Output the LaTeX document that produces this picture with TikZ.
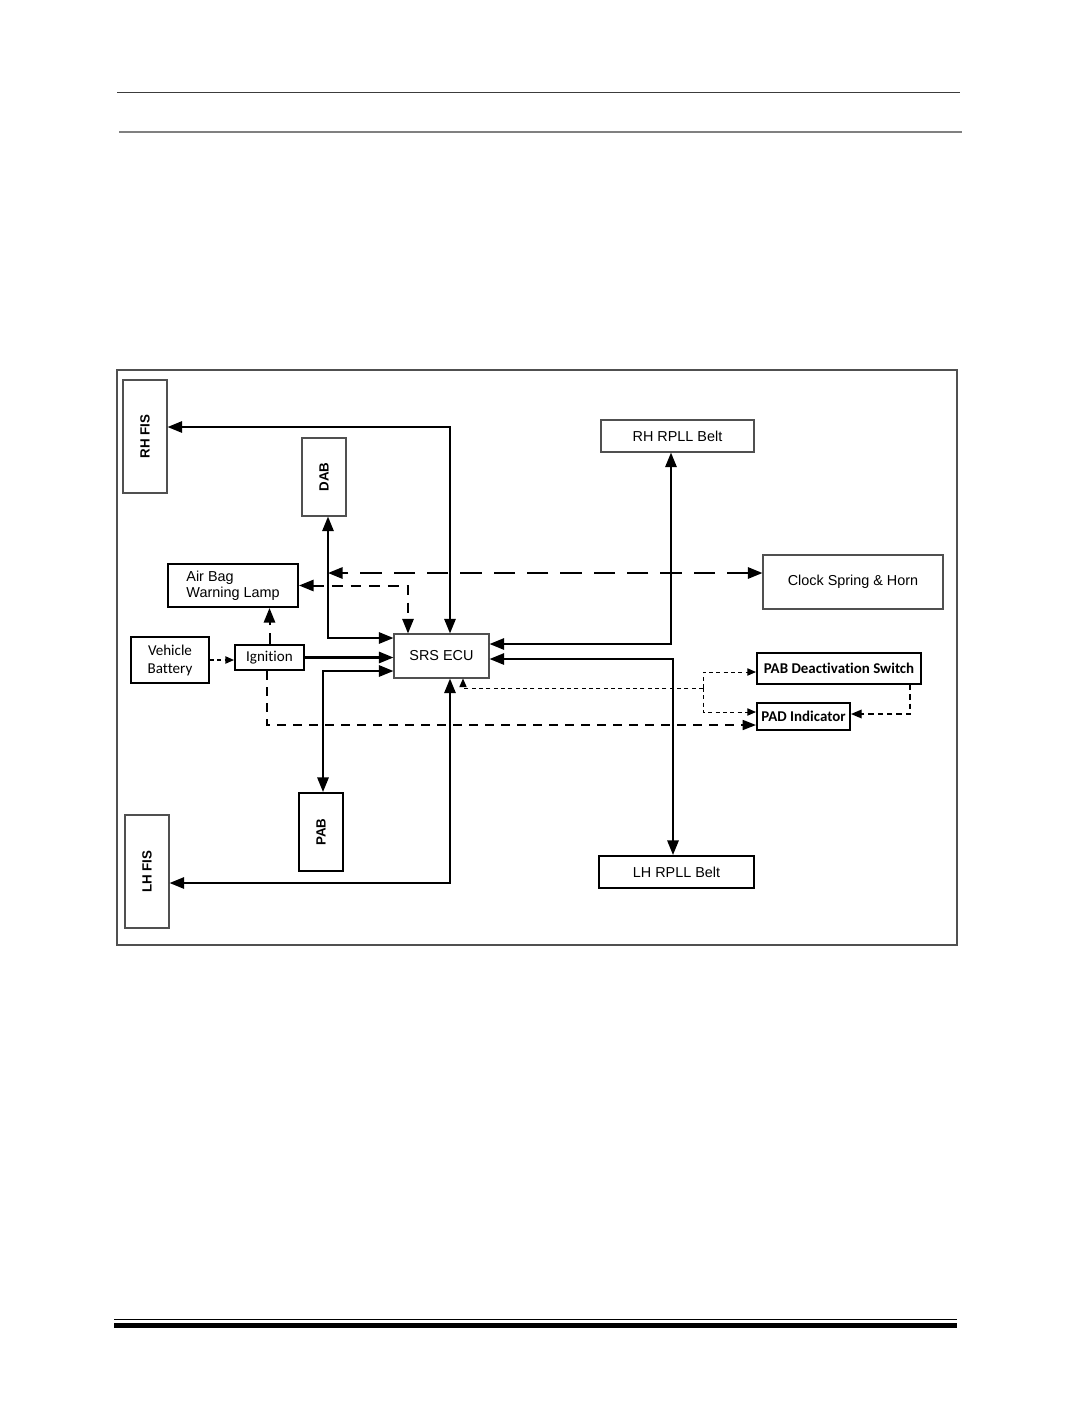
\documentclass[tikz,border=0pt]{standalone}
\usepackage{fontspec}
\setmainfont{Liberation Sans}
\newfontfamily\carlito[Ligatures=NoCommon]{Carlito}
\usepackage{graphicx}
\usetikzlibrary{arrows.meta}
\usetikzlibrary{calc}
\definecolor{framegray}{RGB}{80,80,80}
\definecolor{rulegray}{RGB}{128,128,128}

\begin{document}
\begin{tikzpicture}[x=0.75pt,y=0.75pt,yscale=-1,xscale=1,
	thinbox/.style={draw=framegray,line width=0.8pt,inner sep=0pt,align=center,font=\fontsize{10.8}{12}\selectfont},
	heavybox/.style={draw=black,line width=1.5pt,inner sep=0pt,align=center,font=\fontsize{10.8}{12}\selectfont},
	sidebox/.style={minimum width=33pt,minimum height=84.75pt,font=\bfseries\fontsize{10}{12}\selectfont},
	bagbox/.style={minimum width=33pt,minimum height=58.5pt,font=\bfseries\fontsize{10}{12}\selectfont},
	calbox/.style={heavybox,font=\carlito\fontsize{11.3}{13.5}\selectfont},
	flagbox/.style={heavybox,font=\carlito\bfseries\fontsize{11.2}{13}\selectfont},
	wire/.style={line width=1.6pt,>={Triangle[length=11pt,width=8.5pt]}},
	longdash/.style={wire,dash pattern=on 16pt off 9pt},
	middash/.style={wire,line width=1.5pt,dash pattern=on 8pt off 6pt},
	igndash/.style={line width=1.2pt,dash pattern=on 7pt off 5pt,>={Triangle[length=10pt,width=7.5pt]}},
	thindash/.style={line width=0.75pt,dash pattern=on 3pt off 2.5pt,>={Triangle[length=6.5pt,width=5.5pt]}},
	pairdash/.style={line width=1pt,dash pattern=on 4pt off 3pt,>={Triangle[length=8pt,width=6.5pt]}}]
	\useasboundingbox (0,0) rectangle (1075,1422);

	%Straight Lines (page rules)
	\draw [line width=0.9pt,color={rgb,255:red,60;green,60;blue,60}] (117,92.3) -- (960,92.3) ;
	\draw [line width=1.6pt,rulegray] (119,131.7) -- (962,131.7) ;
	\draw [line width=1pt] (114,1319.8) -- (957,1319.8) ;
	\draw [line width=3.8pt] (114,1325.2) -- (957,1325.2) ;
	%Shape: Rectangle (frame)
	\draw [framegray,line width=0.8pt] (117,370) rectangle (957,945) ;

	% Text Node
	\node [thinbox,sidebox] (rhfis) at (145,436.5) {\rotatebox{90}{RH FIS}};
	% Text Node
	\node [thinbox,bagbox] (dab) at (324,477) {\rotatebox{90}{DAB}};
	% Text Node
	\node [heavybox,minimum width=97.5pt,minimum height=32.25pt,align=left] (lamp) at (233,585.5) {Air Bag\\Warning Lamp};
	% Text Node
	\node [calbox,minimum width=58.5pt,minimum height=34.5pt] (battery) at (170,660) {Vehicle\\Battery};
	% Text Node
	\node [calbox,minimum width=51.75pt,minimum height=18.75pt] (ignition) at (269.5,657.5) {Ignition};
	% Text Node
	\node [thinbox,minimum width=71.25pt,minimum height=33pt] (ecu) at (441.5,656) {SRS ECU};
	% Text Node
	\node [thinbox,minimum width=114.75pt,minimum height=24pt] (rhbelt) at (677.5,436) {RH RPLL Belt};
	% Text Node
	\node [thinbox,minimum width=135pt,minimum height=40.5pt] (horn) at (853,582) {Clock Spring \& Horn};
	% Text Node
	\node [flagbox,minimum width=123pt,minimum height=23.25pt] (pabsw) at (839,668.5) {PAB Deactivation Switch};
	% Text Node
	\node [flagbox,minimum width=69.75pt,minimum height=20.25pt] (padind) at (803.5,716.5) {PAD Indicator};
	% Text Node
	\node [heavybox,bagbox] (pab) at (321,832) {\rotatebox{90}{PAB}};
	% Text Node
	\node [thinbox,sidebox] (lhfis) at (147,871.5) {\rotatebox{90}{LH FIS}};
	% Text Node
	\node [heavybox,minimum width=116.25pt,minimum height=24pt] (lhbelt) at (676.5,872) {LH RPLL Belt};

	\coordinate (hornin) at ($(horn.west)+(0,-9)$);
	\coordinate (dabbus) at ($(dab.south)+(4,0)$);
	\coordinate (swsplit) at (703,688);

	%Straight Lines
	\draw [wire,<->] ($(ecu.north)+(8.5,0)$) |- ($(rhfis.east)+(0,-9.5)$) ;
	\draw [wire,<->] (dabbus) |- ($(ecu.west)+(0,-18)$) ;
	\draw [wire,->] (ignition.east) -- (ignition.east -| ecu.west) ;
	\draw [wire,<->] ($(ecu.west)+(0,15)$) -| ($(pab.north)+(2,0)$) ;
	\draw [wire,<->] ($(ecu.south)+(8.5,0)$) |- ($(lhfis.east)+(0,11.5)$) ;
	\draw [wire,<->] ($(ecu.east)+(0,-12)$) -| ($(rhbelt.south)+(-6.5,0)$) ;
	\draw [wire,<->] ($(ecu.east)+(0,3)$) -| ($(lhbelt.north)+(-3.5,0)$) ;
	%Straight Lines (dashed)
	\draw [longdash,<->] (hornin) -- (hornin -| dabbus) ;
	\draw [middash,<->] (lamp.east) -| ($(ecu.north)+(-33.5,0)$) ;
	\draw [middash,->] (ignition.north) -- (ignition.north |- lamp.south) ;
	\draw [thindash,line width=1pt,->] (battery.east) -- (battery.east -| ignition.west) ;
	\draw [igndash,->] ($(ignition.south)+(-2.5,0)$) |- ($(padind.west)+(0,8.5)$) ;
	\draw [thindash,->] (swsplit) -| ($(ecu.south)+(21.5,0)$) ;
	\draw [thindash,->] (swsplit) |- ($(pabsw.west)+(0,3.5)$) ;
	\draw [thindash,->] (swsplit) |- ($(padind.west)+(0,-4.5)$) ;
	\draw [pairdash,->] ($(pabsw.south)+(71,0)$) |- ($(padind.east)+(0,-2.5)$) ;

\end{tikzpicture}
\end{document}
